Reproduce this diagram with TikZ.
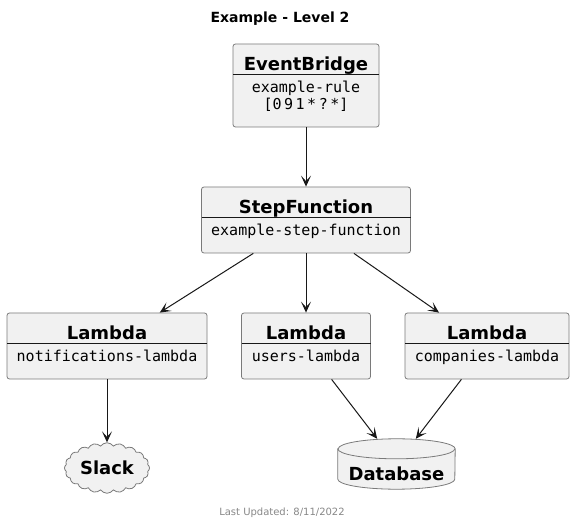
\documentclass[tikz,border=0pt]{standalone}
\usepackage{fontspec}
\setmainfont{DejaVu Sans}
\setmonofont{DejaVu Sans Mono}
\usepackage{tikz}
\usetikzlibrary{arrows.meta}
\usetikzlibrary{shapes.symbols}
\definecolor{umlline}{HTML}{181818}
\definecolor{umlfill}{HTML}{F1F1F1}
\definecolor{umlgray}{HTML}{7A7A7A}
\definecolor{footgray}{HTML}{888888}

\begin{document}
\begin{tikzpicture}[x=1pt,y=-1pt,
		box/.style={rectangle,draw=umlgray,fill=umlfill,rounded corners=2.5pt,line width=0.8pt,inner sep=0pt},
		head/.style={anchor=base,inner sep=0pt,font=\fontsize{18}{21}\selectfont\bfseries},
		body/.style={anchor=base,inner sep=0pt,font=\fontsize{15}{17}\selectfont\ttfamily},
		sep/.style={umlline,line width=1pt},
		link/.style={umlline,line width=1pt,-{Stealth[length=11pt,width=10pt,inset=5.5pt]}}]
			
			\fill[white] (0,0) rectangle (574,524);
			\useasboundingbox (0,0) rectangle (574,524);
			
			\node[anchor=base,font=\fontsize{14}{16}\selectfont\bfseries] (T) at (280,23) {Example - Level 2};
			
			\node[box,minimum width=146pt,minimum height=83pt] (EB) at (306,85.5) {};
			\node[head] (EBh) at (306,71) {EventBridge};
			\draw[sep] (233,75) -- (379,75);
			\node[body] (EBr) at (306,93) {example-rule};
			\node[body] (EBc) at (306,110) {[0\kern2.5pt 9\kern2.5pt 1\kern2.5pt *\kern2.5pt ?\kern2.5pt *]};
			
			\node[box,minimum width=209pt,minimum height=66pt] (SF) at (306,220) {};
			\node[head] (SFh) at (306,214) {StepFunction};
			\draw[sep] (201.5,218) -- (410.5,218);
			\node[body] (SFn) at (306,236) {example-step-function};
			
			\node[box,minimum width=200pt,minimum height=66pt] (L1) at (107,346) {};
			\node[head] (L1h) at (107,340) {Lambda};
			\draw[sep] (7,344) -- (207,344);
			\node[body] (L1n) at (107,362) {notifications-lambda};
			
			\node[box,minimum width=129pt,minimum height=66pt] (L2) at (306,346) {};
			\node[head] (L2h) at (306,340) {Lambda};
			\draw[sep] (241.5,344) -- (370.5,344);
			\node[body] (L2n) at (306,362) {users-lambda};
			
			\node[box,minimum width=164pt,minimum height=66pt] (L3) at (487,346) {};
			\node[head] (L3h) at (487,340) {Lambda};
			\draw[sep] (405,344) -- (569,344);
			\node[body] (L3n) at (487,362) {companies-lambda};
			
			\node[cloud,draw=umlgray,fill=umlfill,line width=0.8pt,cloud puffs=20,cloud puff arc=110,aspect=1.7,minimum width=85pt,minimum height=50pt,inner sep=0pt,font=\fontsize{18}{21}\selectfont\bfseries] (SL) at (107,468) {Slack};
			
			\node[minimum width=117pt,minimum height=50pt,inner sep=0pt] (DB) at (396.5,464) {};
			\filldraw[draw=umlgray,fill=umlfill,line width=0.8pt] ([yshift=-10pt]DB.north west) -- ([yshift=10pt]DB.south west)
				arc[start angle=180,end angle=360,x radius=58.5pt,y radius=10pt] -- ([yshift=-10pt]DB.north east)
				arc[start angle=0,end angle=180,x radius=58.5pt,y radius=10pt] -- cycle;
			\draw[umlgray,line width=0.8pt] ([yshift=-10pt]DB.north west) arc[start angle=180,end angle=360,x radius=58.5pt,y radius=10pt];
			\node[head] (DBt) at (396.5,480) {Database};
			
			\draw[link] (EB) -- (SF);
			\draw[link] (SF) -- (L1);
			\draw[link] (SF) -- (L2);
			\draw[link] (SF) -- (L3);
			\draw[link] (L1) -- (SL);
			\draw[link] (L2) -- (DB);
			\draw[link] (L3) -- (DB);
			
			\node[anchor=base,font=\fontsize{10}{12}\selectfont,text=footgray] (F) at (282,515) {Last Updated: 8/11/2022};
			
		\end{tikzpicture}
\end{document}
